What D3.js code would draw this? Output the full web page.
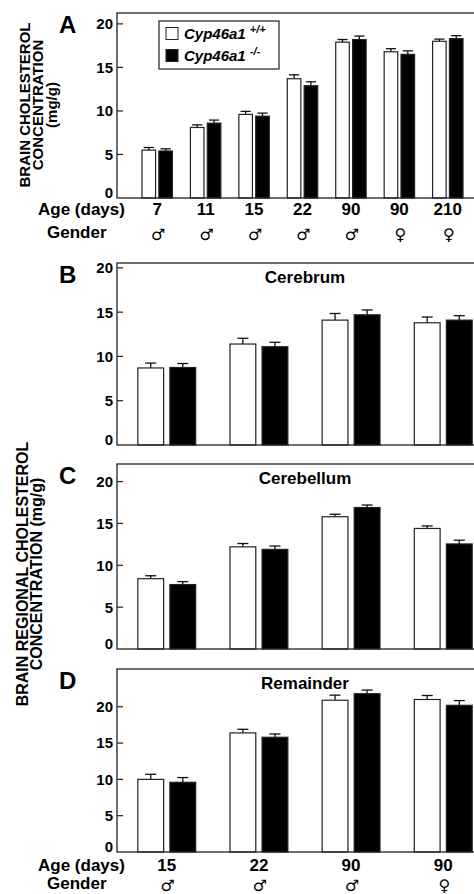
<!DOCTYPE html>
<html lang="en">
<head>
<meta charset="UTF-8">
<title>Brain cholesterol</title>
<style>
  body { margin: 0; background: #fff; }
  text { font-family: "Liberation Sans", Arial, Helvetica, sans-serif; font-weight: bold; fill: #000; }
</style>
</head>
<body>
<svg id="svg" width="474" height="894"></svg>
<script src="https://d3js.org/d3.v7.min.js"></script>
<script>
// ---- data ----
const agesA = ['7', '11', '15', '22', '90', '90', '210'];
const gendersA = ['\u2642', '\u2642', '\u2642', '\u2642', '\u2642', '\u2640', '\u2640'];
const wholeWt = [5.5, 8.1, 9.6, 13.7, 17.9, 16.8, 18.0];
const wholeWtErr = [0.3, 0.3, 0.35, 0.45, 0.3, 0.35, 0.25];
const wholeKo = [5.4, 8.6, 9.4, 12.9, 18.2, 16.5, 18.3];
const wholeKoErr = [0.25, 0.35, 0.35, 0.45, 0.4, 0.4, 0.35];

const agesR = ['15', '22', '90', '90'];
const gendersR = ['\u2642', '\u2642', '\u2642', '\u2640'];
const cerebrumWt = [8.7, 11.4, 14.1, 13.8];
const cerebrumWtErr = [0.55, 0.65, 0.75, 0.65];
const cerebrumKo = [8.75, 11.1, 14.7, 14.1];
const cerebrumKoErr = [0.45, 0.5, 0.55, 0.5];
const cerebellumWt = [8.4, 12.2, 15.8, 14.4];
const cerebellumWtErr = [0.35, 0.4, 0.3, 0.3];
const cerebellumKo = [7.7, 11.9, 16.9, 12.55];
const cerebellumKoErr = [0.35, 0.4, 0.3, 0.45];
const remainderWt = [10.0, 16.4, 20.9, 21.0];
const remainderWtErr = [0.7, 0.5, 0.7, 0.55];
const remainderKo = [9.6, 15.8, 21.8, 20.2];
const remainderKoErr = [0.65, 0.45, 0.5, 0.65];

const yTicks = [0, 5, 10, 15, 20];

// panel layout (pixels) + data
const panels = [
  { letter: 'A', title: null, top: 13, bottom: 198, ymax: 21.25, right: 488, pad: 0.33,
    wt: wholeWt, wtErr: wholeWtErr, ko: wholeKo, koErr: wholeKoErr, ages: agesA, genders: gendersA,
    xlab: true, ageY: 215, genderY: 238 },
  { letter: 'B', title: 'Cerebrum', top: 263, bottom: 445, ymax: 20.55, right: 493, pad: 0.04,
    wt: cerebrumWt, wtErr: cerebrumWtErr, ko: cerebrumKo, koErr: cerebrumKoErr, ages: agesR, genders: gendersR, xlab: false },
  { letter: 'C', title: 'Cerebellum', top: 464, bottom: 649, ymax: 22.1, right: 493, pad: 0.04,
    wt: cerebellumWt, wtErr: cerebellumWtErr, ko: cerebellumKo, koErr: cerebellumKoErr, ages: agesR, genders: gendersR, xlab: false },
  { letter: 'D', title: 'Remainder', top: 669, bottom: 852, ymax: 25.2, right: 493, pad: 0.04,
    wt: remainderWt, wtErr: remainderWtErr, ko: remainderKo, koErr: remainderKoErr, ages: agesR, genders: gendersR,
    xlab: true, ageY: 870.5, genderY: 889 }
];

const svg = d3.select('#svg');
const left = 117;

panels.forEach(p => {
  const g = svg.append('g');
  const x = d3.scaleBand()
    .domain(d3.range(p.wt.length))
    .range([left, p.right])
    .paddingInner(0)
    .paddingOuter(p.pad);
  const y = d3.scaleLinear().domain([0, p.ymax]).range([p.bottom, p.top]);

  const step = x.step();
  const bw = step * 0.28;
  const gap = step * 0.068;
  const capW = Math.min(bw * 0.75, 11);

  // bars
  const series = [
    { vals: p.wt, errs: p.wtErr, fill: '#fff', off: -gap / 2 - bw },
    { vals: p.ko, errs: p.koErr, fill: '#000', off: gap / 2 }
  ];
  series.forEach(s => {
    const cx = i => x(i) + step / 2 + s.off;
    // error bars (upward only)
    g.selectAll(null).data(s.vals).join('line')
      .attr('x1', (d, i) => cx(i) + bw / 2).attr('x2', (d, i) => cx(i) + bw / 2)
      .attr('y1', d => y(d)).attr('y2', (d, i) => y(d + s.errs[i]))
      .attr('stroke', '#111').attr('stroke-width', 1.3);
    g.selectAll(null).data(s.vals).join('line')
      .attr('x1', (d, i) => cx(i) + bw / 2 - capW / 2).attr('x2', (d, i) => cx(i) + bw / 2 + capW / 2)
      .attr('y1', (d, i) => y(d + s.errs[i])).attr('y2', (d, i) => y(d + s.errs[i]))
      .attr('stroke', '#111').attr('stroke-width', 1.3);
    g.selectAll(null).data(s.vals).join('rect')
      .attr('x', (d, i) => cx(i))
      .attr('y', d => y(d))
      .attr('width', bw)
      .attr('height', d => p.bottom - y(d))
      .attr('fill', s.fill)
      .attr('stroke', '#222')
      .attr('stroke-width', 1.2);
  });

  // frame
  g.append('rect')
    .attr('x', left).attr('y', p.top)
    .attr('width', p.right - left + 20).attr('height', p.bottom - p.top)
    .attr('fill', 'none').attr('stroke', '#222').attr('stroke-width', 1.3);

  // y ticks (inside) + labels
  g.selectAll(null).data(yTicks.filter(t => t > 0)).join('line')
    .attr('x1', left).attr('x2', left + 6)
    .attr('y1', d => y(d)).attr('y2', d => y(d))
    .attr('stroke', '#222').attr('stroke-width', 1.2);
  g.selectAll(null).data(yTicks).join('text')
    .attr('x', left - 4)
    .attr('y', d => d === 0 ? p.bottom : y(d))
    .attr('dy', d => d === 0 ? '0' : '0.36em')
    .attr('text-anchor', 'end')
    .style('font-size', '15px')
    .text(d => d);

  // panel letter
  g.append('text')
    .attr('x', 59).attr('y', p.top + 20)
    .style('font-size', '24px')
    .text(p.letter);

  if (p.title) {
    g.append('text')
      .attr('x', 305).attr('y', p.top + 20)
      .attr('text-anchor', 'middle')
      .style('font-size', '17px')
      .text(p.title);
  }

  if (p.xlab) {
    g.append('text').attr('x', 38).attr('y', p.ageY).style('font-size', '17px').text('Age (days)');
    g.append('text').attr('x', 47).attr('y', p.genderY).style('font-size', '17px').text('Gender');
    g.selectAll(null).data(p.ages).join('text')
      .attr('x', (d, i) => x(i) + step / 2)
      .attr('y', p.ageY)
      .attr('text-anchor', 'middle')
      .style('font-size', '17px')
      .text(d => d);
    g.selectAll(null).data(p.genders).join('text')
      .attr('x', (d, i) => x(i) + step / 2 + 1)
      .attr('y', p.genderY + 2)
      .attr('text-anchor', 'middle')
      .style('font-family', '"DejaVu Sans"')
      .style('font-weight', 'normal')
      .style('font-size', '16px')
      .text(d => d);
  }
});

// y-axis titles
const titleA = ['BRAIN CHOLESTEROL', 'CONCENTRATION', '(mg/g)'];
svg.append('g').attr('transform', 'translate(0,105) rotate(-90)')
  .selectAll('text').data(titleA).join('text')
  .attr('x', 0).attr('y', (d, i) => 29.5 + i * 13.5)
  .attr('text-anchor', 'middle')
  .style('font-size', '15px')
  .text(d => d);

const titleR = ['BRAIN REGIONAL CHOLESTEROL', 'CONCENTRATION (mg/g)'];
svg.append('g').attr('transform', 'translate(0,574) rotate(-90)')
  .selectAll('text').data(titleR).join('text')
  .attr('x', 0).attr('y', (d, i) => 27.5 + i * 14)
  .attr('text-anchor', 'middle')
  .style('font-size', '16px')
  .text(d => d);

// legend
const legend = svg.append('g');
legend.append('rect')
  .attr('x', 159).attr('y', 21).attr('width', 120).attr('height', 48)
  .attr('fill', '#fff').attr('stroke', '#222').attr('stroke-width', 1.2);
const legItems = [
  { fill: '#fff', sup: '+/+' },
  { fill: '#000', sup: '-/-' }
];
legItems.forEach((it, i) => {
  legend.append('rect')
    .attr('x', 166).attr('y', 27.5 + i * 22).attr('width', 12).attr('height', 12)
    .attr('fill', it.fill).attr('stroke', '#222').attr('stroke-width', 1);
  const t = legend.append('text')
    .attr('x', 184).attr('y', 39 + i * 22)
    .style('font-size', '15px').style('font-style', 'italic');
  t.append('tspan').text('Cyp46a1');
  t.append('tspan').attr('dx', 4).attr('dy', -6).style('font-size', '11px').text(it.sup);
});
</script>
</body>
</html>
